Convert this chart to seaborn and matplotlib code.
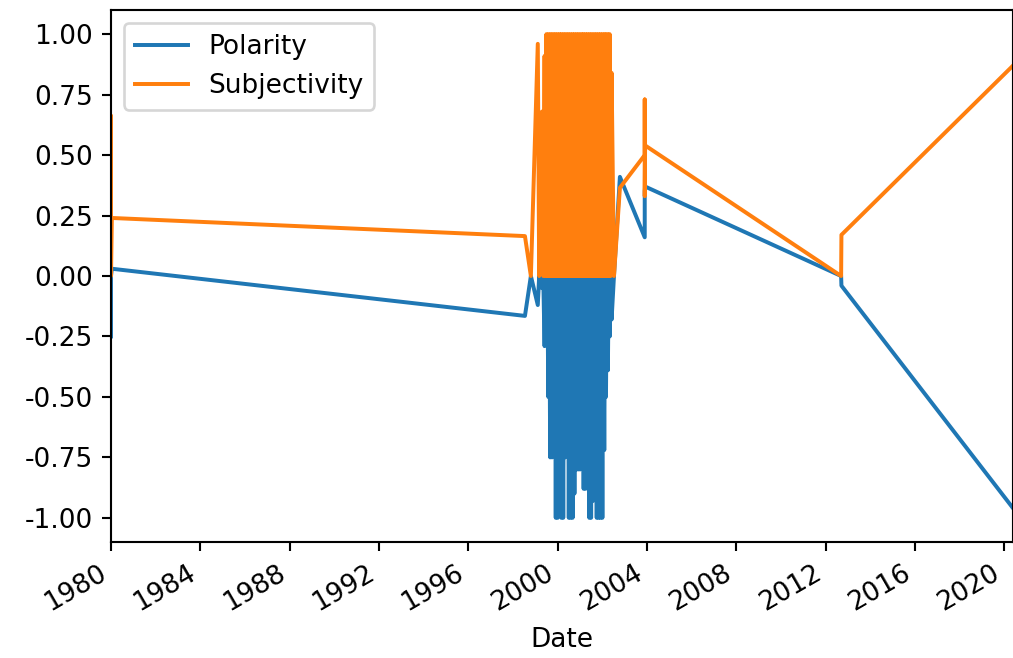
"""
Polarity / subjectivity of articles over time.
"""

import pandas as pd
import matplotlib
matplotlib.use('Agg')
import matplotlib.pyplot as plt
import matplotlib.dates as mdates
import seaborn as sns

DPI = 190

dates = [
    '1980-01-01', '1980-01-01', '1980-01-15',
    '1998-07-15', '1998-10-20',
    '1999-02-10', '1999-03-05', '1999-04-20', '1999-05-10', '1999-06-01',
    '1999-06-16', '1999-07-01', '1999-07-16', '1999-08-01', '1999-08-16',
    '1999-09-01', '1999-09-16', '1999-10-01', '1999-10-16', '1999-11-01',
    '1999-11-16', '1999-12-01', '1999-12-16', '2000-01-01', '2000-01-16',
    '2000-02-01', '2000-02-16', '2000-03-01', '2000-03-16', '2000-04-01',
    '2000-04-16', '2000-05-01', '2000-05-16', '2000-06-01', '2000-06-16',
    '2000-07-01', '2000-07-16', '2000-08-01', '2000-08-16', '2000-09-01',
    '2000-09-16', '2000-10-01', '2000-10-16', '2000-11-01', '2000-11-16',
    '2000-12-01', '2000-12-16', '2001-01-01', '2001-01-16', '2001-02-01',
    '2001-02-16', '2001-03-01', '2001-03-16', '2001-04-01', '2001-04-16',
    '2001-05-01', '2001-05-16', '2001-06-01', '2001-06-16', '2001-07-01',
    '2001-07-16', '2001-08-01', '2001-08-16', '2001-09-01', '2001-09-16',
    '2001-10-01', '2001-10-16', '2001-11-01', '2001-11-16', '2001-12-01',
    '2001-12-16', '2002-01-01', '2002-01-16', '2002-02-01', '2002-02-16',
    '2002-03-01', '2002-03-16', '2002-04-01', '2002-04-16', '2002-05-01',
    '2002-05-16', '2002-06-01', '2002-07-10',
    '2002-10-15', '2003-11-25', '2003-11-25', '2003-11-25', '2003-12-01',
    '2012-09-10', '2012-09-15', '2020-05-22',
]

polarity = [
    -0.25, 0.0, 0.03,
    -0.165, 0.0,
    -0.12, 0.0, -0.05, 0.0, -0.29,
    0.0, -0.10, 0.0, -0.50, 0.0,
    -0.75, 0.0, -0.75, 0.0, -0.50,
    0.0, -1.00, 0.0, -1.00, 0.0,
    -0.80, 0.0, -1.00, 0.0, -1.00,
    0.0, -0.75, 0.0, -0.71, 0.0,
    -1.00, 0.0, -1.00, 0.0, -1.00,
    0.0, -0.90, 0.0, -0.80, 0.0,
    -0.80, 0.0, -0.80, 0.0, -0.78,
    0.0, -0.88, 0.0, -0.88, 0.0,
    -0.76, 0.0, -1.00, 0.0, -1.00,
    0.0, -0.93, 0.0, -0.85, 0.0,
    -1.00, 0.0, -1.00, 0.0, -1.00,
    0.0, -1.00, 0.0, -0.72, 0.0,
    -0.50, 0.0, -0.39, 0.0, -0.25,
    0.0, -0.18, 0.0,
    0.41, 0.16, 0.30, 0.35, 0.37,
    0.0, -0.04, -0.96,
]

subjectivity = [
    0.66, 0.0, 0.24,
    0.165, 0.0,
    0.96, 0.0, 0.68, 0.0, 0.91,
    0.0, 1.0, 0.0, 1.0, 0.0,
    1.0, 0.0, 1.0, 0.0, 1.0,
    0.0, 1.0, 0.0, 1.0, 0.0,
    1.0, 0.0, 1.0, 0.0, 1.0,
    0.0, 1.0, 0.0, 1.0, 0.0,
    1.0, 0.0, 1.0, 0.0, 1.0,
    0.0, 1.0, 0.0, 1.0, 0.0,
    1.0, 0.0, 1.0, 0.0, 1.0,
    0.0, 1.0, 0.0, 1.0, 0.0,
    1.0, 0.0, 1.0, 0.0, 1.0,
    0.0, 1.0, 0.0, 1.0, 0.0,
    1.0, 0.0, 1.0, 0.0, 1.0,
    0.0, 1.0, 0.0, 1.0, 0.0,
    1.0, 0.0, 1.0, 0.0, 1.0,
    0.0, 0.84, 0.0,
    0.365, 0.50, 0.73, 0.33, 0.54,
    0.0, 0.17, 0.87,
]


def main():
    plt.rcParams['axes.unicode_minus'] = False
    df = pd.DataFrame({'Date': pd.to_datetime(dates),
                       'Polarity': polarity,
                       'Subjectivity': subjectivity})

    fig = plt.figure(figsize=(1013 / DPI, 658 / DPI), dpi=DPI)
    ax = fig.add_axes([111 / 1013, 116 / 658, 902 / 1013, 532 / 658])

    sns.lineplot(data=df, x='Date', y='Polarity', ax=ax, color='#1f77b4',
                 label='Polarity', estimator=None, sort=False, linewidth=1.5)
    sns.lineplot(data=df, x='Date', y='Subjectivity', ax=ax, color='#ff7f0e',
                 label='Subjectivity', estimator=None, sort=False, linewidth=1.5)

    ax.set_xlim(df['Date'].min(), df['Date'].max())
    ax.xaxis.set_major_locator(mdates.YearLocator(4))
    ax.xaxis.set_major_formatter(mdates.DateFormatter('%Y'))
    for lbl in ax.get_xticklabels():
        lbl.set_rotation(30)
        lbl.set_ha('right')
    ax.set_xlabel('Date')
    ax.set_ylabel('')
    ax.legend(loc='upper left')

    fig.savefig('out.png', dpi=DPI)
    plt.close(fig)
    print('Saved out.png')


if __name__ == '__main__':
    main()
